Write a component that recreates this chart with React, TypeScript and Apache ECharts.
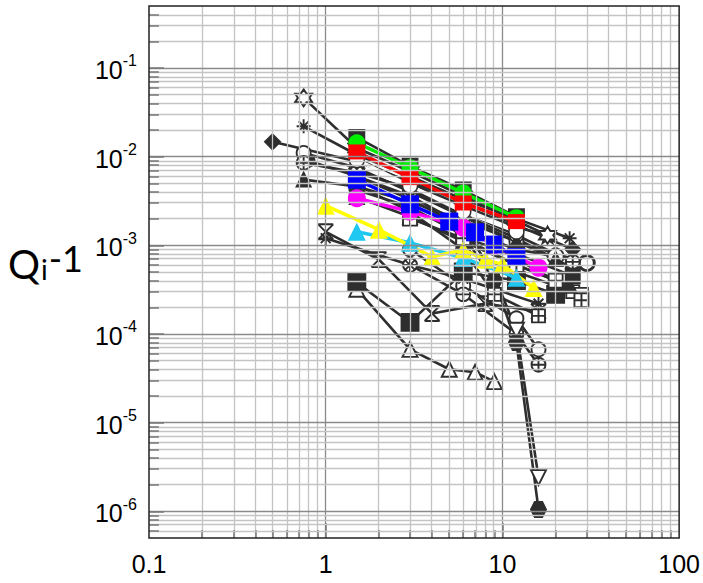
import { useEffect, useRef } from "react";
import * as echarts from "echarts";

// ---------- axis ranges & tick labels ----------
const X_RANGE = [0.1, 100];
const Y_RANGE = [5e-7, 0.5];
const xTickLabels = ["0.1", "1", "10", "100"];
const yTickExponents = [-6, -5, -4, -3, -2, -1];

// ---------- coloured series ([x, y]) ----------
const greenData = [[1.5, 0.0143], [3, 0.0075], [6, 0.0039], [12, 0.00205]];
const redData = [[1.5, 0.0113], [3, 0.0058], [6, 0.003], [12, 0.00185]];
const whiteData = [[1.5, 0.0092], [3, 0.0047], [6, 0.0024], [12, 0.00143]];
const blueData = [[1.5, 0.0055], [3, 0.0029], [5, 0.00185], [7, 0.0014], [9, 0.00102], [12, 0.00074]];
const magentaData = [[1.5, 0.0034], [3, 0.0024], [6, 0.00158], [9, 0.001], [16, 0.00056]];
const yellowData = [[1, 0.0028], [2, 0.0015], [4, 0.00074], [6, 0.00089], [8, 0.00069], [10, 0.00061], [15, 0.00033]];
const cyanData = [[1.5, 0.00142], [3, 0.00107], [6, 0.00072], [12, 0.00043]];

// ---------- dark series ([x, y]) ----------
const darkDiamond = [[0.5, 0.0147], [1.5, 0.0088], [3, 0.0052], [6, 0.0031], [12, 0.0017], [25, 0.0009]];
const darkHexStar = [[0.75, 0.046], [1.5, 0.0125], [3, 0.0068], [6, 0.0036], [18, 0.0013]];
const darkAster = [[0.75, 0.022], [1.5, 0.0105], [3, 0.006], [6, 0.0033], [12, 0.002], [24, 0.0012]];
const darkTriA = [[0.75, 0.0055], [1.5, 0.0046], [3, 0.0031], [6, 0.0019], [12, 0.0011], [20, 0.0007]];
const darkSquareTop = [[1.5, 0.0165], [3, 0.0078], [6, 0.0042], [12, 0.0021]];
const darkCirclePlusA = [[0.75, 0.0085], [1.5, 0.0066], [3, 0.0044], [6, 0.0024], [12, 0.0013], [25, 0.00065]];
const darkCircleA = [[0.75, 0.011], [1.5, 0.0075], [3, 0.004], [6, 0.0021], [12, 0.0011], [30, 0.00063]];
const darkInvTri = [[1.5, 0.006], [3, 0.0036], [6, 0.0017], [9, 0.00045], [12, 0.00011], [16, 2.4e-6]];
const darkHexagon = [[1.5, 0.0042], [3, 0.0027], [6, 0.0013], [9, 0.0004], [12, 8e-5], [16, 1.05e-6]];
const darkHourglass = [[1, 0.00142], [2, 0.00069], [4, 0.00017], [8, 0.00022], [16, 0.00018]];
const darkSquareLow = [[1.5, 0.00038], [3, 0.000135], [6, 0.0005], [12, 0.0004], [20, 0.00028]];
const darkOpenTriLow = [[1.5, 0.00032], [3, 6.7e-5], [5, 4e-5], [7, 3.7e-5], [9, 2.9e-5]];
const darkCircleLow1 = [[3, 0.0009], [6, 0.00035], [12, 0.00015], [16, 6.7e-5]];
const darkCircleLow2 = [[3, 0.0006], [6, 0.00028], [12, 0.0001], [16, 4.5e-5]];
const darkSquarePlusRight = [[3, 0.002], [6, 0.0012], [12, 0.0006], [20, 0.0004], [28, 0.00024]];
const darkCircleRight = [[3, 0.0025], [6, 0.0015], [12, 0.0009], [20, 0.00075], [30, 0.00063]];
const darkCircleFilled = [[1.5, 0.007], [3, 0.0042], [6, 0.0022], [12, 0.0012], [25, 0.00055]];
const darkRectRight = [[6, 0.0012], [12, 0.0008], [25, 0.00045]];
const darkSquarePlusB = [[1.5, 0.0048], [3, 0.0024], [6, 0.0009], [9, 0.00028], [16, 0.00016]];
const darkAsterLow = [[1, 0.0012], [3, 0.0006], [6, 0.00042], [16, 0.00022]];
const darkCircleB = [[0.8, 0.009], [1.5, 0.006], [3, 0.0033], [6, 0.0016], [12, 0.0007], [20, 0.0004]];
const darkTriB = [[1.5, 0.0035], [3, 0.0021], [6, 0.0011], [12, 0.0006], [24, 0.00035]];
const darkStar5 = [[1.5, 0.0095], [3, 0.005], [6, 0.0028], [12, 0.0016], [18, 0.0013]];
const darkSquareOpenRight = [[6, 0.0009], [12, 0.0005], [25, 0.0003], [28, 0.00028]];

// ---------- symbols ----------
const P_HEXSTAR = "path://M0,-10L2.89,-5L8.66,-5L5.77,0L8.66,5L2.89,5L0,10L-2.89,5L-8.66,5L-5.77,0L-8.66,-5L-2.89,-5Z";
const P_ASTER = "path://M0,-10L0,10M-10,0L10,0M-7,-7L7,7M-7,7L7,-7";
const P_HOURGLASS = "path://M-7,-9L7,-9M-7,9L7,9M-7,-9L7,9M7,-9L-7,9";
const P_CIRCLEPLUS = "path://M-10,0A10,10,0,1,1,10,0A10,10,0,1,1,-10,0ZM0,-10L0,10M-10,0L10,0";
const P_SQUAREPLUS = "path://M-10,-10L10,-10L10,10L-10,10ZM0,-10L0,10M-10,0L10,0";
const P_HEXAGON = "path://M-5,-9L5,-9L10,0L5,9L-5,9L-10,0Z";
const P_STAR5 = "path://M0,-10L2.35,-3.24L9.51,-3.09L3.8,1.24L5.88,8.09L0,4L-5.88,8.09L-3.8,1.24L-9.51,-3.09L-2.35,-3.24Z";

const DARK = "#2e2e2e";
const TICK_FONT = "'Liberation Sans', Arial, sans-serif";
const TITLE_FONT = "Lato, 'DejaVu Sans', sans-serif";
const lg = (v: number) => Math.log10(v);
const toLog = (d: number[][]) => d.map(([x, y]) => [lg(x), lg(y)]);

function darkSeries(data: number[][], symbol: string, size: number, filled: boolean, rotate = 0) {
  return {
    type: "line",
    data: toLog(data),
    symbol,
    symbolSize: size,
    symbolRotate: rotate,
    showAllSymbol: true,
    lineStyle: { color: DARK, width: 2.6 },
    itemStyle: { color: filled ? DARK : "#ffffff", borderColor: DARK, borderWidth: 1.9 },
    z: 3,
  };
}

function colorSeries(data: number[][], symbol: string, size: number | number[], color: string, border?: string) {
  return {
    type: "line",
    data: toLog(data),
    symbol,
    symbolSize: size,
    showAllSymbol: true,
    lineStyle: { color, width: 3.5 },
    itemStyle: { color, borderColor: border || color, borderWidth: border ? 1.5 : 0 },
    z: 4,
  };
}

export default function App() {
  const ref = useRef<HTMLDivElement>(null);

  useEffect(() => {
    if (!ref.current) return;
    const chart = echarts.init(ref.current, null, { renderer: "svg" });

    const xMin = lg(X_RANGE[0]);
    const xMax = lg(X_RANGE[1]);
    const yMin = lg(Y_RANGE[0]);
    const yMax = lg(Y_RANGE[1]);

    const MAJOR = "#8a8a8a";
    const MINOR = "#c4c4c4";
    const TICK = "#777777";
    const lines: any[] = [];
    // vertical grid lines + bottom ticks
    for (let e = -1; e < 2; e++) {
      for (let m = 1; m <= 9; m++) {
        const v = e + Math.log10(m);
        if (v <= xMin + 1e-9 || v >= xMax - 1e-9) continue;
        lines.push({ xAxis: v, lineStyle: { color: m === 1 ? MAJOR : MINOR, width: 1.3, type: "solid" } });
        const len = m === 1 ? 0.17 : 0.09;
        lines.push([
          { coord: [v, yMin], lineStyle: { color: TICK, width: 1.5, type: "solid" } },
          { coord: [v, yMin + len] },
        ]);
      }
    }
    // horizontal grid lines + left ticks
    for (let e = -7; e < 0; e++) {
      for (let m = 1; m <= 9; m++) {
        const v = e + Math.log10(m);
        if (v <= yMin + 1e-9 || v >= yMax - 1e-9) continue;
        lines.push({ yAxis: v, lineStyle: { color: m === 1 ? MAJOR : MINOR, width: 1.3, type: "solid" } });
        const len = m === 1 ? 0.085 : 0.056;
        lines.push([
          { coord: [xMin, v], lineStyle: { color: TICK, width: 1.5, type: "solid" } },
          { coord: [xMin + len, v] },
        ]);
      }
    }

    const gridSeries = {
      type: "line",
      data: [],
      silent: true,
      z: 1,
      markLine: {
        silent: true,
        symbol: ["none", "none"],
        label: { show: false },
        emphasis: { disabled: true },
        data: lines,
      },
    };

    const series: any[] = [
      gridSeries,
      darkSeries(darkSquareOpenRight, "rect", 13, false),
      darkSeries(darkCircleLow1, "circle", 14, false),
      darkSeries(darkCircleLow2, P_CIRCLEPLUS, 14, false),
      darkSeries(darkOpenTriLow, "triangle", 15, false),
      darkSeries(darkSquareLow, "rect", 17, true),
      darkSeries(darkHourglass, P_HOURGLASS, 15, false),
      darkSeries(darkAsterLow, P_ASTER, 14, false),
      darkSeries(darkInvTri, "triangle", 15, false, 180),
      darkSeries(darkHexagon, P_HEXAGON, 15, true),
      darkSeries(darkSquarePlusB, P_SQUAREPLUS, 13, false),
      darkSeries(darkTriB, "triangle", 14, true),
      darkSeries(darkCircleB, "circle", 12, true),
      darkSeries(darkRectRight, "rect", 14, true),
      darkSeries(darkCircleFilled, "circle", 14, true),
      darkSeries(darkCircleRight, "circle", 16, false),
      darkSeries(darkSquarePlusRight, P_SQUAREPLUS, 14, false),
      darkSeries(darkCircleA, "circle", 14, false),
      darkSeries(darkCirclePlusA, P_CIRCLEPLUS, 14, false),
      darkSeries(darkTriA, "triangle", 14, true),
      darkSeries(darkStar5, P_STAR5, 16, false),
      darkSeries(darkAster, P_ASTER, 14, false),
      darkSeries(darkHexStar, P_HEXSTAR, 17, false),
      darkSeries(darkDiamond, "diamond", 15, true),
      darkSeries(darkSquareTop, "rect", 15, true),
      colorSeries(whiteData, "circle", 15, "#ffffff", DARK),
      colorSeries(cyanData, "triangle", 18, "#1ec8f0"),
      colorSeries(yellowData, "triangle", 18, "#ffff00"),
      colorSeries(magentaData, "circle", 18, "#ff00ff"),
      colorSeries(blueData, "rect", 18, "#0000ff"),
      colorSeries(greenData, "circle", 17, "#00ee00"),
      colorSeries(redData, "rect", [17, 15], "#ff0000"),
    ];

    chart.setOption({
      animation: false,
      backgroundColor: "#ffffff",
      grid: {
        left: 149,
        right: 23,
        top: 6,
        bottom: 45,
        show: true,
        borderColor: "#222222",
        borderWidth: 1.5,
        backgroundColor: "transparent",
        z: 10,
      },
      xAxis: {
        type: "value",
        min: xMin,
        max: xMax,
        interval: 1,
        axisLine: { show: false },
        axisTick: { show: false },
        splitLine: { show: false },
        axisLabel: {
          margin: 13,
          fontSize: 25,
          color: "#000",
          fontFamily: TICK_FONT,
          formatter: (v: number) => xTickLabels[Math.round(v - xMin)] ?? "",
        },
      },
      yAxis: {
        type: "value",
        min: yMin,
        max: yMax,
        axisLine: { show: false },
        axisTick: { show: false },
        splitLine: { show: false },
        axisLabel: {
          customValues: yTickExponents,
          margin: 12,
          color: "#000",
          fontFamily: TICK_FONT,
          formatter: (v: number) => `{b|10}{s|${Math.round(v)}}`,
          rich: {
            b: { fontSize: 25, fontFamily: TICK_FONT, color: "#000", padding: [4, 0, 0, 0] },
            s: { fontSize: 16, fontFamily: TICK_FONT, color: "#000", padding: [0, 0, 14, 0] },
          },
        },
      },
      graphic: [
        {
          type: "text",
          left: 8,
          top: 240,
          style: {
            text: "{q|Q}{i|i}{s|-1}",
            rich: {
              q: { fontSize: 40, fontFamily: TITLE_FONT, fill: "#000" },
              i: { fontSize: 28, fontFamily: TITLE_FONT, fill: "#000", padding: [10, 1, 0, 1] },
              s: { fontSize: 36, fontFamily: TITLE_FONT, fill: "#000", padding: [0, 0, 12, 0] },
            },
          },
        },
      ],
      series,
    });

    return () => chart.dispose();
  }, []);

  return <div ref={ref} style={{ position: "absolute", left: 0, top: 0, width: 703, height: 583 }} />;
}
